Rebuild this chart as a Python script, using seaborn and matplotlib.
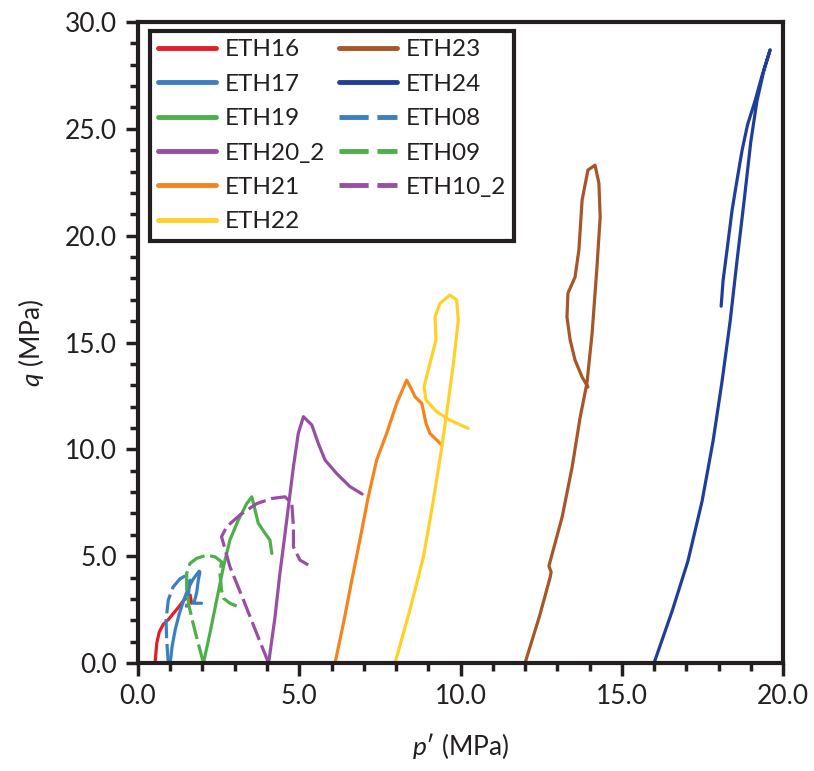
import matplotlib
matplotlib.use("Agg")
import matplotlib.pyplot as plt
from matplotlib.ticker import MultipleLocator, FormatStrFormatter
import seaborn as sns
import pandas as pd

# ---------------- data (p', q) in MPa ----------------
eth16_p = [0.53, 0.58, 0.66, 0.78, 0.95, 1.09, 1.25, 1.40, 1.53, 1.62, 1.66]
eth16_q = [0.00, 0.91, 1.45, 1.80, 2.05, 2.31, 2.60, 2.90, 3.10, 3.18, 2.80]

eth17_p = [1.00, 1.06, 1.16, 1.28, 1.42, 1.56, 1.70, 1.82, 1.90, 1.92, 1.87, 1.82, 1.76, 1.72, 1.97]
eth17_q = [0.00, 0.80, 1.60, 2.30, 2.95, 3.50, 3.90, 4.15, 4.30, 4.25, 3.88, 3.30, 2.95, 2.80, 2.80]

eth19_p = [2.03, 2.23, 2.44, 2.65, 2.85, 3.11, 3.37, 3.53, 3.63, 3.73, 3.94, 4.09, 4.15]
eth19_q = [0.00, 1.39, 2.95, 4.51, 5.76, 6.69, 7.46, 7.78, 7.16, 6.54, 6.07, 5.76, 5.13]

eth20_p = [4.05, 4.25, 4.40, 4.56, 4.69, 4.82, 4.97, 5.13, 5.39, 5.59, 5.80, 6.16, 6.57, 6.95]
eth20_q = [0.00, 2.17, 4.19, 6.07, 7.63, 9.19, 10.75, 11.53, 11.14, 10.28, 9.50, 8.87, 8.26, 7.91]

eth21_p = [6.11, 6.37, 6.63, 6.88, 7.14, 7.40, 7.71, 8.02, 8.33, 8.49, 8.59, 8.80, 8.93, 9.05, 9.42]
eth21_q = [0.00, 1.86, 3.88, 5.76, 7.78, 9.50, 10.75, 12.15, 13.24, 12.78, 12.46, 12.15, 11.22, 10.75, 10.20]

eth22_p = [7.97, 8.43, 8.85, 9.16, 9.42, 9.57, 9.78, 9.93, 9.88, 9.67, 9.36, 9.21, 9.24, 9.05, 8.87,
           8.93, 9.26, 9.67, 10.24]
eth22_q = [0.00, 2.48, 4.97, 7.63, 10.12, 11.68, 14.02, 16.05, 16.99, 17.22, 16.83, 16.20, 15.11,
           14.02, 12.93, 12.31, 11.76, 11.37, 10.98]

eth23_p = [12.00, 12.45, 12.78, 12.81, 12.74, 13.15, 13.46, 13.71, 13.92, 14.08, 14.23, 14.33, 14.29,
           14.17, 13.95, 13.77, 13.67, 13.55, 13.33, 13.30, 13.40, 13.55, 13.77, 13.95]
eth23_q = [0.00, 2.20, 4.02, 4.26, 4.54, 6.83, 9.17, 11.51, 13.10, 15.44, 18.53, 20.87, 22.46,
           23.30, 23.07, 21.67, 19.33, 18.06, 17.31, 16.19, 15.11, 14.18, 13.38, 12.92]

eth24_p = [16.00, 16.56, 17.05, 17.49, 17.83, 18.11, 18.36, 18.57, 18.79, 19.00, 19.19, 19.40, 19.60,
           19.35, 19.13, 18.90, 18.73, 18.55, 18.42, 18.26, 18.14, 18.08]
eth24_q = [0.00, 2.43, 4.77, 7.58, 10.39, 13.20, 16.00, 18.80, 21.60, 24.40, 26.30, 27.70, 28.70,
           27.50, 26.30, 25.20, 24.00, 22.40, 21.20, 19.30, 17.90, 16.70]

eth08_p = [0.94, 0.89, 0.87, 0.94, 1.09, 1.30, 1.49, 1.61, 1.57, 1.53, 1.50]
eth08_q = [0.00, 1.08, 2.01, 2.95, 3.56, 3.94, 4.10, 3.88, 3.30, 2.90, 2.60]

eth09_p = [2.03, 1.87, 1.71, 1.59, 1.51, 1.51, 1.61, 1.82, 2.13, 2.39, 2.59, 2.54, 2.59, 2.65, 2.85, 3.06]
eth09_q = [0.00, 0.91, 1.85, 2.62, 3.42, 4.20, 4.66, 4.90, 5.05, 4.97, 4.74, 4.20, 3.42, 3.03, 2.80, 2.67]

eth10_p = [4.05, 3.68, 3.27, 2.85, 2.65, 2.59, 2.75, 3.16, 3.68, 4.14, 4.56, 4.77, 4.82, 4.82, 5.02, 5.28]
eth10_q = [0.00, 1.39, 2.95, 4.51, 5.60, 5.91, 6.38, 6.93, 7.46, 7.70, 7.78, 7.46, 6.38, 5.44, 4.82, 4.59]

names = ["ETH16", "ETH17", "ETH19", "ETH20_2", "ETH21", "ETH22",
         "ETH23", "ETH24", "ETH08", "ETH09", "ETH10_2"]
p_values = [eth16_p, eth17_p, eth19_p, eth20_p, eth21_p, eth22_p,
            eth23_p, eth24_p, eth08_p, eth09_p, eth10_p]
q_values = [eth16_q, eth17_q, eth19_q, eth20_q, eth21_q, eth22_q,
            eth23_q, eth24_q, eth08_q, eth09_q, eth10_q]

colors = ["#E41E26", "#3B7FC0", "#4DAF4A", "#984EA3", "#F7831E", "#FFD02A",
          "#A65628", "#1F3E99", "#3B7FC0", "#4DAF4A", "#984EA3"]
dashed = [False] * 8 + [True] * 3

# ---------------- style ----------------
sns.set_theme(style="white")
plt.rcParams["font.family"] = ["Lato", "DejaVu Sans"]
plt.rcParams["mathtext.fontset"] = "custom"
plt.rcParams["mathtext.it"] = "Lato:italic"
plt.rcParams["mathtext.rm"] = "Lato"

fig = plt.figure(figsize=(8.14, 7.71), dpi=100)
ax = fig.add_axes([0.1695, 0.140, 0.7925, 0.8315])

for name, p, q, c, d in zip(names, p_values, q_values, colors, dashed):
    df = pd.DataFrame({"p": p, "q": q})
    sns.lineplot(data=df, x="p", y="q", sort=False, estimator=None, ax=ax,
                 color=c, linewidth=2.3, label=name,
                 linestyle=(0, (6, 1.8)) if d else "-")

ax.set_xlim(0, 20)
ax.set_ylim(0, 30)
ax.xaxis.set_major_locator(MultipleLocator(5))
ax.xaxis.set_minor_locator(MultipleLocator(1))
ax.yaxis.set_major_locator(MultipleLocator(5))
ax.yaxis.set_minor_locator(MultipleLocator(1))
ax.xaxis.set_major_formatter(FormatStrFormatter("%.1f"))
ax.yaxis.set_major_formatter(FormatStrFormatter("%.1f"))
ax.tick_params(which="major", direction="out", length=9, width=2.5,
               labelsize=19, color="#231F20", labelcolor="#231F20",
               bottom=True, left=True, top=False, right=False, pad=6)
ax.tick_params(which="minor", direction="out", length=6, width=2.5,
               color="#231F20", bottom=True, left=True, top=False, right=False)
for s in ax.spines.values():
    s.set_linewidth(3.0)
    s.set_color("#231F20")

ax.set_xlabel("$p$′ (MPa)", fontsize=19, color="#231F20", labelpad=16)
ax.set_ylabel("$q$ (MPa)", fontsize=19, color="#231F20", labelpad=14)

leg = ax.legend(loc="upper left", bbox_to_anchor=(0.018, 0.986), ncol=2,
                fontsize=17.5, frameon=True, fancybox=False, framealpha=1.0,
                handlelength=2.4, handletextpad=0.35, columnspacing=0.55,
                labelspacing=0.55, borderpad=0.35, borderaxespad=0.0)
leg.get_frame().set_edgecolor("#231F20")
leg.get_frame().set_linewidth(3.0)
for line in leg.get_lines():
    line.set_linewidth(3.5)
for t in leg.get_texts():
    t.set_color("#231F20")

fig.savefig("out.png", dpi=100)
